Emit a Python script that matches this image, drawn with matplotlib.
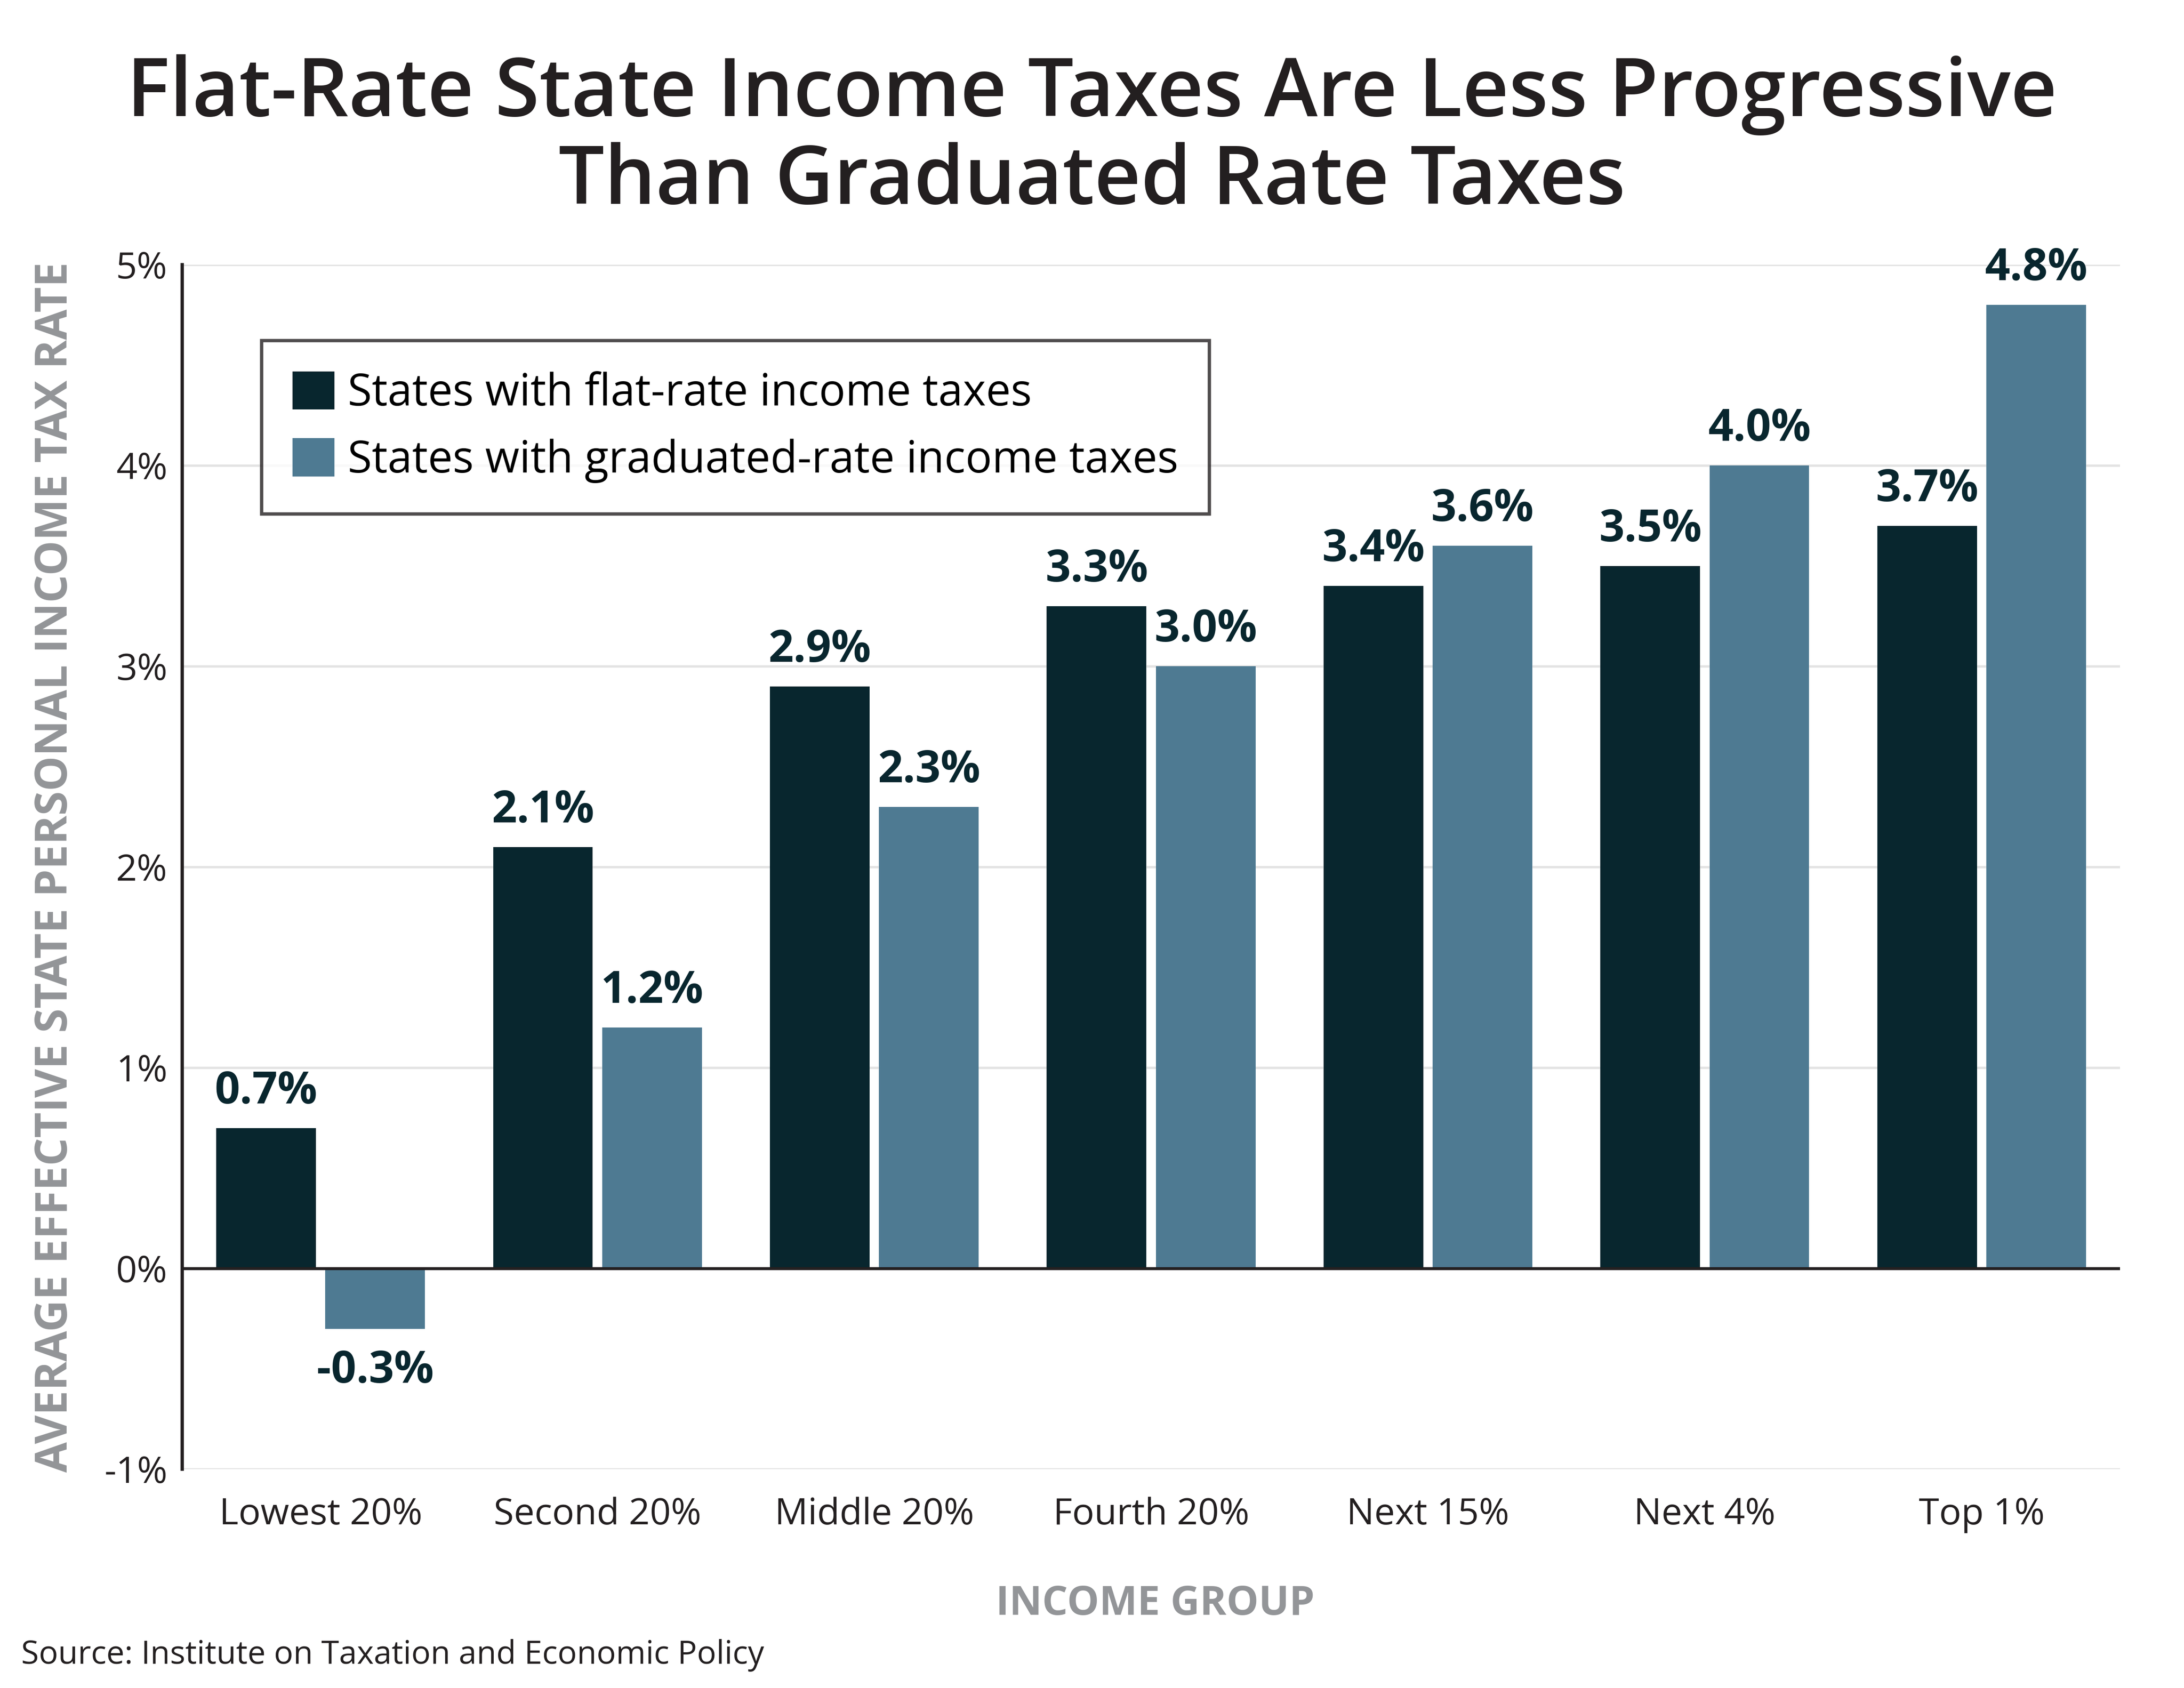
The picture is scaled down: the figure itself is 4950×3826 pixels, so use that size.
import matplotlib.pyplot as plt
import numpy as np

# data
groups = ["Lowest 20%", "Second 20%", "Middle 20%", "Fourth 20%", "Next 15%", "Next 4%", "Top 1%"]
flat_rate = [0.7, 2.1, 2.9, 3.3, 3.4, 3.5, 3.7]
graduated_rate = [-0.3, 1.2, 2.3, 3.0, 3.6, 4.0, 4.8]
y_ticks = [-1, 0, 1, 2, 3, 4, 5]

dark = "#08262e"
blue = "#4e7a92"
gray = "#939598"
ink = "#231f20"

plt.rcParams['font.family'] = ['Open Sans', 'DejaVu Sans']

W, H = 4950, 3826
fig = plt.figure(figsize=(W / 300, H / 300), dpi=300)
ax = fig.add_axes([413 / W, 1 - 3330 / H, 4392 / W, 2730 / H])

x = np.arange(len(groups))
w = 0.36
off = 0.197
b1 = ax.bar(x - off, flat_rate, w, color=dark, label="States with flat-rate income taxes", zorder=3)
b2 = ax.bar(x + off, graduated_rate, w, color=blue, label="States with graduated-rate income taxes", zorder=3)

for bars in (b1, b2):
    for r in bars:
        v = r.get_height()
        cx = r.get_x() + r.get_width() / 2
        if v >= 0:
            ax.text(cx, v + 0.07, f"{v:.1f}%", ha="center", va="bottom", fontsize=24,
                    fontweight="bold", color=dark)
        else:
            ax.text(cx, v - 0.1, f"{v:.1f}%", ha="center", va="top", fontsize=24,
                    fontweight="bold", color=dark)

ax.set_xlim(-0.5, 6.5)
ax.set_ylim(-1, 5)
ax.set_yticks(y_ticks)
ax.set_yticklabels([f"{t}%" for t in y_ticks])
ax.set_xticks(x)
ax.set_xticklabels(groups)
ax.tick_params(axis='both', length=0, labelsize=20, colors=ink)
ax.tick_params(axis='y', pad=8)
ax.tick_params(axis='x', pad=15)

ax.grid(axis='y', color="#e3e3e3", linewidth=1.3, zorder=0)
ax.axhline(0, color=ink, linewidth=1.6, zorder=4)
for s in ("top", "right", "bottom"):
    ax.spines[s].set_visible(False)
ax.spines["left"].set_color(ink)
ax.spines["left"].set_linewidth(1.8)

ax.set_ylabel("AVERAGE EFFECTIVE STATE PERSONAL INCOME TAX RATE", fontsize=24,
              fontweight="bold", color=gray)
ax.yaxis.set_label_coords(-0.0655, 0.5)
ax.yaxis.label.set_va("center")
ax.set_xlabel("INCOME GROUP", fontsize=22, fontweight="bold", color=gray)
ax.xaxis.set_label_coords(0.502, -0.112)
ax.xaxis.label.set_va("center")

leg = ax.legend(loc="upper left", bbox_to_anchor=(0.041, 0.937), fontsize=24,
                frameon=True, fancybox=False, edgecolor=ink, handlelength=0.95,
                handleheight=0.95, handletextpad=0.3, borderpad=0.7, labelspacing=0.5,
                borderaxespad=0)
leg.get_frame().set_linewidth(1.8)

fig.text(0.5, 1 - 215 / H, "Flat-Rate State Income Taxes Are Less Progressive",
         ha="center", va="center", fontsize=44, fontweight="semibold", color=ink)
fig.text(0.5, 1 - 414 / H, "Than Graduated Rate Taxes",
         ha="center", va="center", fontsize=44, fontweight="semibold", color=ink)
fig.text(48 / W, 1 - 3752 / H, "Source: Institute on Taxation and Economic Policy",
         ha="left", va="center", fontsize=17.5, color=ink)

fig.savefig("out.png", dpi=300)
